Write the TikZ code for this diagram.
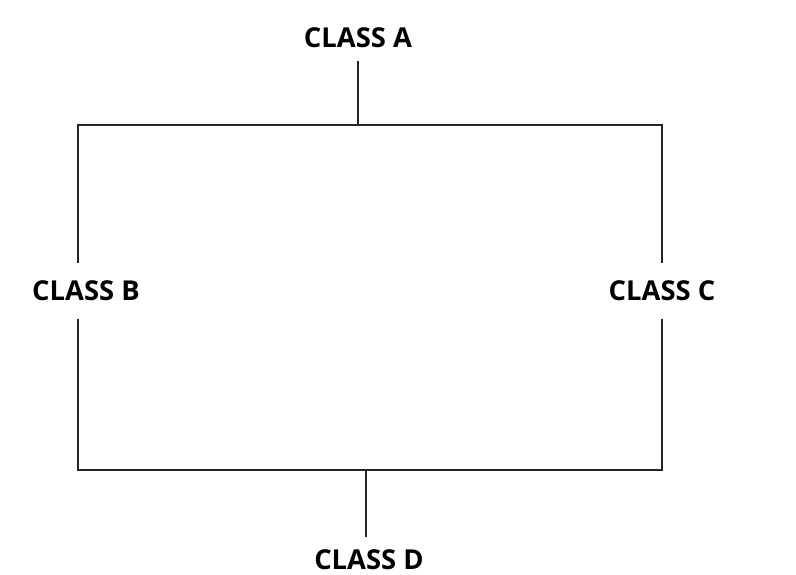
\documentclass[tikz,border=0pt]{standalone}
\usepackage{fontspec}
\setmainfont{Open Sans}
\usepackage{tikz}
\usetikzlibrary{calc}

\begin{document}
\begin{tikzpicture}[x=0.02cm, y=-0.02cm,
  class/.style={font=\bfseries\fontsize{15.6}{18}\selectfont, inner xsep=2pt, inner ysep=0.25cm},
  sideclass/.style={class, inner ysep=0.36cm},
  link/.style={line width=1pt, color=black!85}]

\useasboundingbox (0,0) rectangle (796,575);

\node[class] (classA) at (358,38) {CLASS A};
\node[sideclass] (classB) at (86,291) {CLASS B};
\node[sideclass] (classC) at (662,291) {CLASS C};
\node[class] (classD) at (369,560) {CLASS D};

\coordinate (topJoin) at (358,125);
\coordinate (botJoin) at (366,470);
\coordinate (leftEdge) at (78,291);

\draw[link] (classA) -- (topJoin);
\draw[link] (topJoin) -| (leftEdge |- classB.north);
\draw[link] (topJoin) -| (classC);
\draw[link] (leftEdge |- classB.south) |- (botJoin);
\draw[link] (classC) |- (botJoin);
\draw[link] (botJoin) -- (botJoin |- classD.north);
\end{tikzpicture}
\end{document}
